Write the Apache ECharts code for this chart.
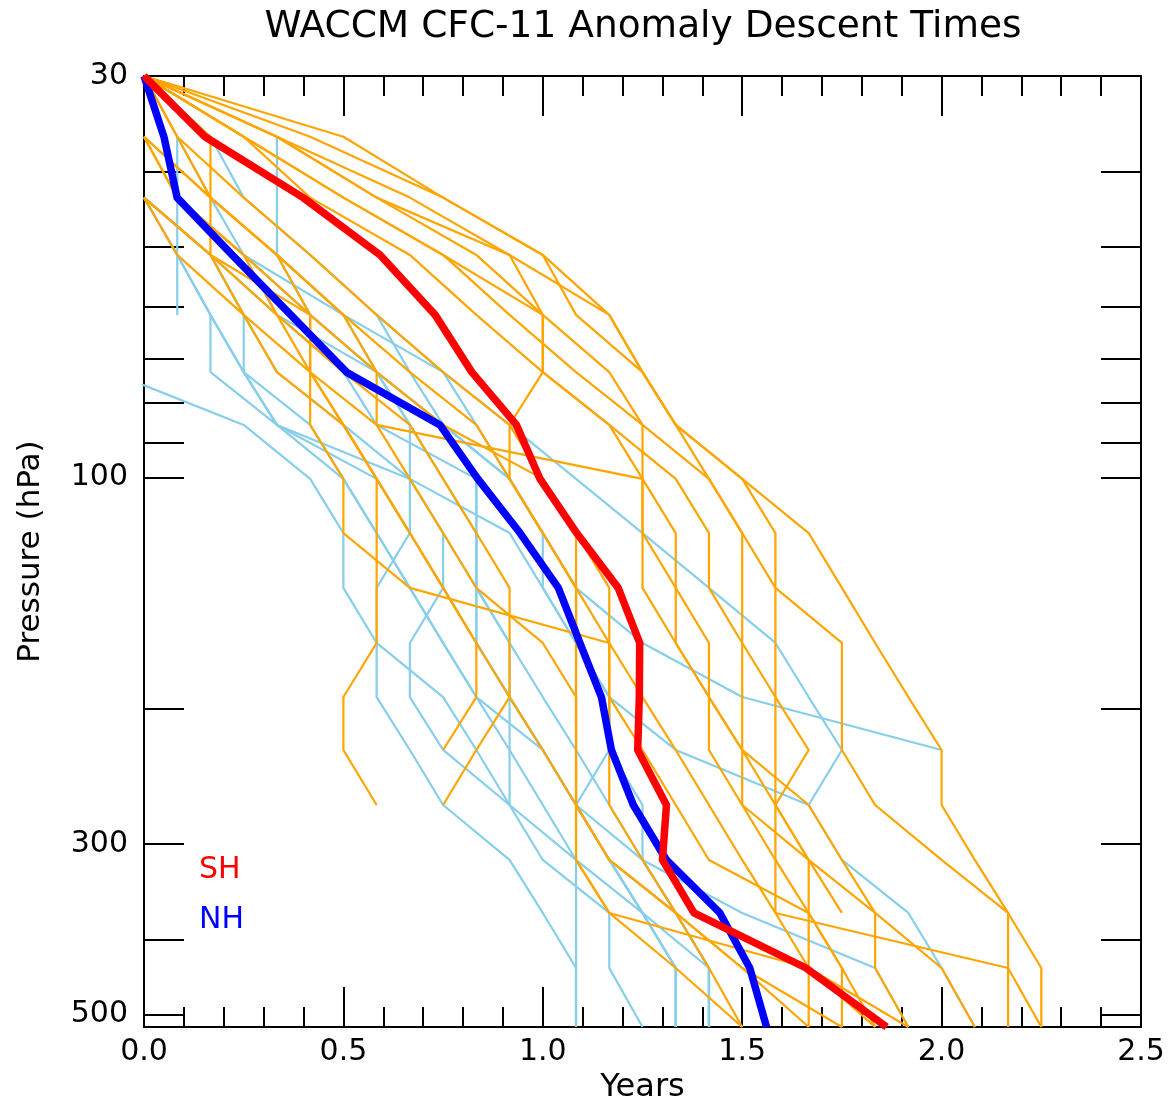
<!DOCTYPE html>
<html><head><meta charset="utf-8">
<script src="https://cdn.jsdelivr.net/npm/echarts@6/dist/echarts.min.js"></script>
<style>html,body{margin:0;padding:0;background:#fff}#c{width:1169px;height:1097px}</style>
</head><body><div id="c"></div>
<script>
// model pressure levels (hPa)
const levels = [30, 36.0, 43.2, 51.3, 61.4, 72.9, 85.4, 100.4, 118.1, 139.2, 164.2, 193.1, 226.3, 266.9, 314.7, 368.9, 435.1, 519.3];
// mean descent times (years) at each level
const shMean = [0, 0.153, 0.399, 0.592, 0.730, 0.822, 0.934, 0.993, 1.085, 1.189, 1.243, 1.242, 1.238, 1.310, 1.300, 1.379, 1.660, 1.862];
const nhMean = [0, 0.050, 0.083, 0.221, 0.368, 0.508, 0.742, 0.837, 0.943, 1.039, 1.093, 1.147, 1.172, 1.227, 1.310, 1.444, 1.519, 1.561];
// individual SH profiles: descent time in months at each level (null = no value)
const shProfiles = [
  [0,6,9,12,14,15,16,18,20,21,22,23,24,24,25,26,27,27],
  [0,5,9,12,13,15,16,18,19,19,21,21,21,22,24,26,26,26],
  [0,4,8,11,14,15,16,17,18,18,18,18,18,19,20,20,20,20],
  [0,4,7,11,12,12,14,16,17,17,18,19,19,19,19,19,26,27],
  [0,3,6,9,11,13,15,15,16,16,17,17,18,20,21,22,22,23],
  [0,3,5,8,10,12,14,15,15,16,16,17,17,18,19,20,21,22],
  [0,2,2,2,5,7,9,12,13,14,14,14,15,16,17,20,21,21],
  [0,1,3,5,7,9,11,12,13,13,13,13,13,13,13,14,16,18],
  [0,4,7,10,12,12,11,11,12,13,13,13,13,13,14,16,18,21],
  [null,0,2,4,6,7,7,15,15,15,16,17,18,18,20,22,24,25],
  [null,0,1,3,5,5,5,6,6,8,14,14,14,14,15,16,17,18],
  [null,0,2,4,5,5,6,7,7,7,7,6,6,7,null,null,null,null],
  [null,0,1,3,4,6,8,9,10,11,11,11,10,9,null,null,null,null],
  [null,null,0,2,4,5,6,7,8,9,10,10,9,null,null,null,null,null],
  [null,null,0,2,3,5,7,8,9,10,12,13,13,13,13,14,20,23],
  [null,null,0,1,3,4,6,7,8,9,10,11,12,13,14,16,18,20],
  [0,1,2,4,6,8,10,11,12,13,14,15,16,17,18,19,20,22],
  [0,3,6,9,12,14,15,17,18,19,19,19,20,19,20,21,null,null]
];
// individual NH profiles: descent time in months at each level (null = no value)
const nhProfiles = [
  [null,1,1,1,1,null,null,null,null,null,null,null,null,null,null,null,null,null],
  [null,null,0,1,2,2,4,7,8,9,10,11,12,13,14,15,16,16],
  [null,4,4,4,5,7,8,9,10,10,11,12,13,14,15,16,17,17],
  [null,null,null,null,null,-1,3,5,6,6,7,9,10,11,null,null,null,null],
  [null,null,null,4,6,7,8,8,8,7,7,7,8,9,11,12,13,13],
  [null,null,0,2,3,3,4,8,11,12,13,14,14,15,15,16,17,17],
  [0,2,3,5,7,8,9,10,10,10,10,11,12,13,14,15,16,16],
  [null,1,2,3,4,7,9,11,12,12,13,14,16,20,null,null,null,null],
  [null,null,0,2,4,6,7,10,10,10,10,11,12,13,14,15,17,17],
  [null,null,null,3,6,9,11,13,15,17,19,20,21,20,21,23,24,25],
  [null,null,1,3,5,7,9,11,12,13,13,14,14,13,15,18,22,23],
  [null,null,null,null,null,null,null,null,9,9,8,8,9,11,13,15,16,16],
  [null,null,0,1,2,3,5,6,7,8,9,10,11,12,13,13,13,13],
  [null,null,0,2,3,4,6,8,9,10,11,11,11,11,12,14,14,15],
  [null,null,null,null,2,3,4,6,7,8,9,10,12,13,14,16,17,17],
  [null,null,null,null,7,9,10,11,12,13,15,18,24,null,null,null,null,null]
];
const xTicks = [0, 0.5, 1.0, 1.5, 2.0, 2.5];
const yTickValues = [30,40,50,60,70,80,90,100,200,300,400,500];
const yLabelValues = [30,100,300,500];

const chart = echarts.init(document.getElementById('c'));
const FONT = 'DejaVu Sans';
function prof(arr){ const d=[]; arr.forEach((m,i)=>{ if(m!==null) d.push([m/12, levels[i]]); }); return d; }
function meanData(arr){ return arr.map((v,i)=>[v, levels[i]]); }
const series = [];
nhProfiles.forEach(p=>series.push({type:'line', data:prof(p), symbol:'none', lineStyle:{color:'#87CEEB', width:2.2}, z:2}));
shProfiles.forEach(p=>series.push({type:'line', data:prof(p), symbol:'none', lineStyle:{color:'#FFA500', width:2.2}, z:2}));
series.push({type:'line', data:meanData(nhMean), symbol:'none', lineStyle:{color:'#0000FF', width:7.5, join:'round'}, z:3});
series.push({type:'line', data:meanData(shMean), symbol:'none', lineStyle:{color:'#FF0000', width:7.5, join:'round'}, z:4});

const tickStyle = {color:'#000', width:2};
function xAx(pos, labels){
  return {type:'value', min:xTicks[0], max:xTicks[xTicks.length-1], interval:0.5, position:pos,
    axisLine:{show:true, onZero:false, lineStyle:{color:'#000', width:2}},
    axisTick:{show:true, inside:true, length:40, lineStyle:tickStyle},
    minorTick:{show:true, splitNumber:5, length:20, lineStyle:tickStyle},
    splitLine:{show:false},
    axisLabel:{show:labels, formatter:v=>v.toFixed(1), fontSize:30, color:'#000', fontFamily:FONT, margin:10},
    name: labels?'Years':'', nameLocation:'middle', nameGap:35,
    nameTextStyle:{fontSize:32, color:'#000', fontFamily:FONT}};
}
function yAx(pos, labels){
  return {type:'log', logBase:10, min:levels[0], max:levels[levels.length-1], inverse:true, position:pos,
    axisLine:{show:true, onZero:false, lineStyle:{color:'#000', width:2}},
    axisTick:{show:true, inside:true, length:40, lineStyle:tickStyle, customValues:yTickValues},
    minorTick:{show:false}, splitLine:{show:false},
    axisLabel:{show:labels, customValues:yLabelValues, formatter:v=>String(Math.round(v)), fontSize:30, color:'#000', fontFamily:FONT, margin:16},
    name: labels?'Pressure (hPa)':'', nameLocation:'middle', nameGap:98,
    nameTextStyle:{fontSize:31, color:'#000', fontFamily:FONT}};
}
chart.setOption({
  animation:false,
  backgroundColor:'#fff',
  title:{text:'WACCM CFC-11 Anomaly Descent Times', left:638, textAlign:'center', top:3,
    textStyle:{fontFamily:FONT, fontSize:37.5, fontWeight:'normal', color:'#000'}},
  grid:{left:144, top:76, width:997, height:951, containLabel:false, outerBoundsMode:'none'},
  xAxis:[xAx('bottom', true), xAx('top', false)],
  yAxis:[yAx('left', true), yAx('right', false)],
  graphic:[
    {type:'text', left:199, top:855, style:{text:'SH', fill:'#FF0000', font:'30px "DejaVu Sans"'}},
    {type:'text', left:199, top:905, style:{text:'NH', fill:'#0000FF', font:'30px "DejaVu Sans"'}}
  ],
  series: series
});
</script></body></html>
